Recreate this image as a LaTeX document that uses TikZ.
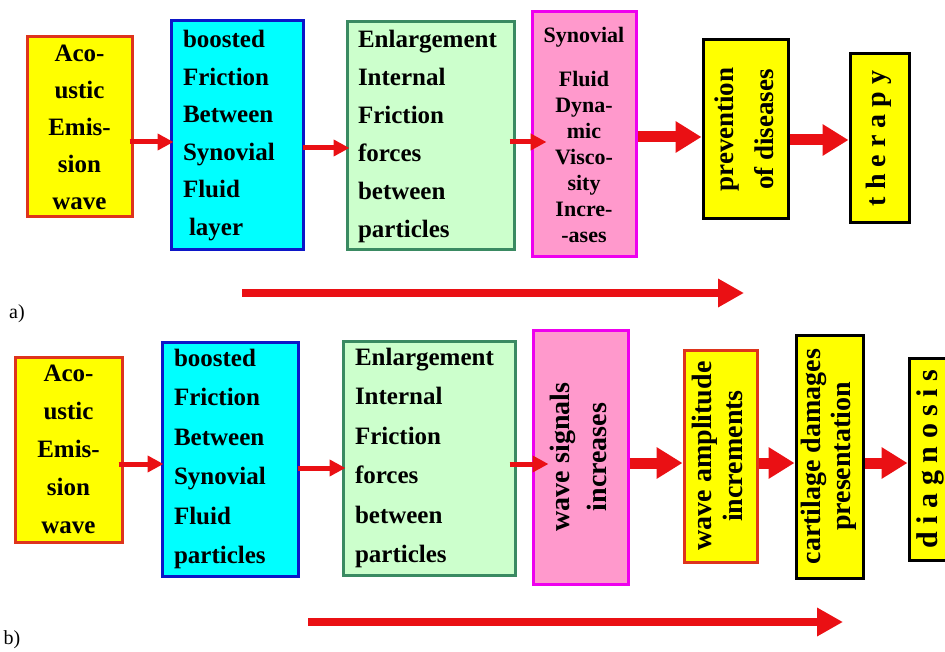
\documentclass[tikz,border=0pt]{standalone}
\usepackage{fontspec}
\setmainfont{Liberation Serif}
\usepackage{graphicx}
\usepackage{tikz}
\usetikzlibrary{arrows.meta}
\usetikzlibrary{calc}
\usetikzlibrary{positioning}

\definecolor{arrred}{RGB}{234,16,20}
\definecolor{boxyellow}{RGB}{255,255,0}
\definecolor{edgered}{RGB}{222,52,28}
\definecolor{boxcyan}{RGB}{0,255,255}
\definecolor{edgeblue}{RGB}{12,22,200}
\definecolor{boxgreen}{RGB}{204,255,204}
\definecolor{edgegreen}{RGB}{58,138,98}
\definecolor{boxpink}{RGB}{255,153,204}
\definecolor{edgemag}{RGB}{238,0,238}

\newcommand{\bfs}[2]{\fontsize{#1}{#2}\selectfont\bfseries}
\newcommand{\uptext}[1]{\rotatebox{90}{\begin{tabular}{@{}c@{}}#1\end{tabular}}}

\begin{document}
\begin{tikzpicture}[x=1pt, y=-1pt,
  blk/.style={draw, line width=3pt, inner sep=0pt, align=center},
  emission/.style={blk, fill=boxyellow, draw=edgered},
  friction/.style={blk, fill=boxcyan, draw=edgeblue, text width=#1, align=left},
  internal/.style={blk, fill=boxgreen, draw=edgegreen, text width=#1, align=left},
  viscous/.style={blk, fill=boxpink, draw=edgemag},
  outcome/.style={blk, fill=boxyellow, draw=black},
  smallarr/.style={arrred, line width=5pt, -{Triangle[length=16pt,width=16pt]}},
  bigarr/.style={arrred, line width=11pt, -{Triangle[length=26pt,width=30pt]}},
  longarr/.style={arrred, line width=8pt, -{Triangle[length=26pt,width=27pt]}}]
  \useasboundingbox (0,0) rectangle (945,652);
  \clip (0,0) rectangle (945,652);

  % a) therapy chain
  \node[emission, minimum width=105pt, minimum height=180pt, font=\bfs{25}{37}] (A1) at (79.5,127)
    {Aco-\\ustic\\Emis-\\sion\\wave};
  \node[friction=108pt, minimum width=132pt, minimum height=229pt, font=\bfs{25}{37.5}] (B1) at (237,135.5)
    {boosted\\Friction\\Between\\Synovial\\Fluid\\\hspace*{6pt}layer};
  \node[internal=145pt, minimum width=167pt, minimum height=228pt, font=\bfs{25}{38}] (C1) at (430.5,136)
    {Enlargement\\Internal\\Friction\\forces\\between\\particles};
  \node[viscous, minimum width=104pt, minimum height=245pt, font=\bfs{22}{26}] (D1) at (584,134.5)
    {Synovial\\[18pt]Fluid\\Dyna-\\mic\\Visco-\\sity\\Incre-\\-ases};
  \node[outcome, minimum width=85pt, minimum height=179pt, font=\bfs{27}{40}] (E1) at (745.5,129.5)
    {\uptext{prevention\\of diseases}};
  \node[outcome, minimum width=59pt, minimum height=169pt, font=\bfs{28}{32}] (F1) at (879.5,138.5)
    {\uptext{t h e r a p y}};

  \draw[smallarr] ([xshift=-4pt]A1.east |- 0,142) -- ([xshift=4pt]B1.west |- 0,142);
  \draw[smallarr] ([xshift=-2pt]B1.east |- 0,148) -- ([xshift=4pt]C1.west |- 0,148);
  \draw[smallarr] ([xshift=-6pt]C1.east |- 0,142) -- ([xshift=16pt]D1.west |- 0,142);
  \draw[bigarr] (D1.east |- 0,137) -- (E1.west |- 0,137);
  \draw[bigarr] (E1.east |- 0,140) -- (F1.west |- 0,140);

  \coordinate (la1s) at (242,293);
  \coordinate (la1e) at (744,293);
  \draw[longarr] (la1s) -- (la1e);
  \node[font=\fontsize{20}{24}\selectfont] (labA) at (17,314) {a)};

  % b) diagnosis chain
  \node[emission, minimum width=107pt, minimum height=185pt, font=\bfs{25}{38}] (A2) at (68.5,449.5)
    {Aco-\\ustic\\Emis-\\sion\\wave};
  \node[friction=112pt, minimum width=136pt, minimum height=234pt, font=\bfs{25}{39.5}] (B2) at (230,459)
    {boosted\\Friction\\Between\\Synovial\\Fluid\\particles};
  \node[internal=148pt, minimum width=172pt, minimum height=234pt, font=\bfs{25}{39.5}] (C2) at (429,458)
    {Enlargement\\Internal\\Friction\\forces\\between\\particles};
  \node[viscous, minimum width=95pt, minimum height=254pt, font=\bfs{28}{37}] (D2) at (580.5,457)
    {\uptext{wave signals\\increases}};
  \node[emission, minimum width=73pt, minimum height=212pt, font=\bfs{28}{31}] (E2) at (720.5,456)
    {\uptext{wave amplitude\\increments}};
  \node[outcome, minimum width=67pt, minimum height=243pt, font=\bfs{28}{30}] (F2) at (829.5,456.5)
    {\uptext{cartilage damages\\presentation}};
  \node[outcome, minimum width=43pt, minimum height=202pt, font=\bfs{30}{34}] (G2) at (930.5,459)
    {\uptext{d i a g n o s i s}};

  \draw[smallarr] ([xshift=-5pt]A2.east |- 0,464) -- ([xshift=3pt]B2.west |- 0,464);
  \draw[smallarr] ([xshift=-2pt]B2.east |- 0,468) -- ([xshift=4pt]C2.west |- 0,468);
  \draw[smallarr] ([xshift=-7pt]C2.east |- 0,464) -- ([xshift=17pt]D2.west |- 0,464);
  \draw[bigarr] (D2.east |- 0,463) -- (E2.west |- 0,463);
  \draw[bigarr] (E2.east |- 0,463) -- (F2.west |- 0,463);
  \draw[bigarr] (F2.east |- 0,463) -- (G2.west |- 0,463);

  \coordinate (la2s) at (308,622);
  \coordinate (la2e) at (843,622);
  \draw[longarr] (la2s) -- (la2e);
  \node[font=\fontsize{20}{24}\selectfont] (labB) at (12,640) {b)};
\end{tikzpicture}
\end{document}
